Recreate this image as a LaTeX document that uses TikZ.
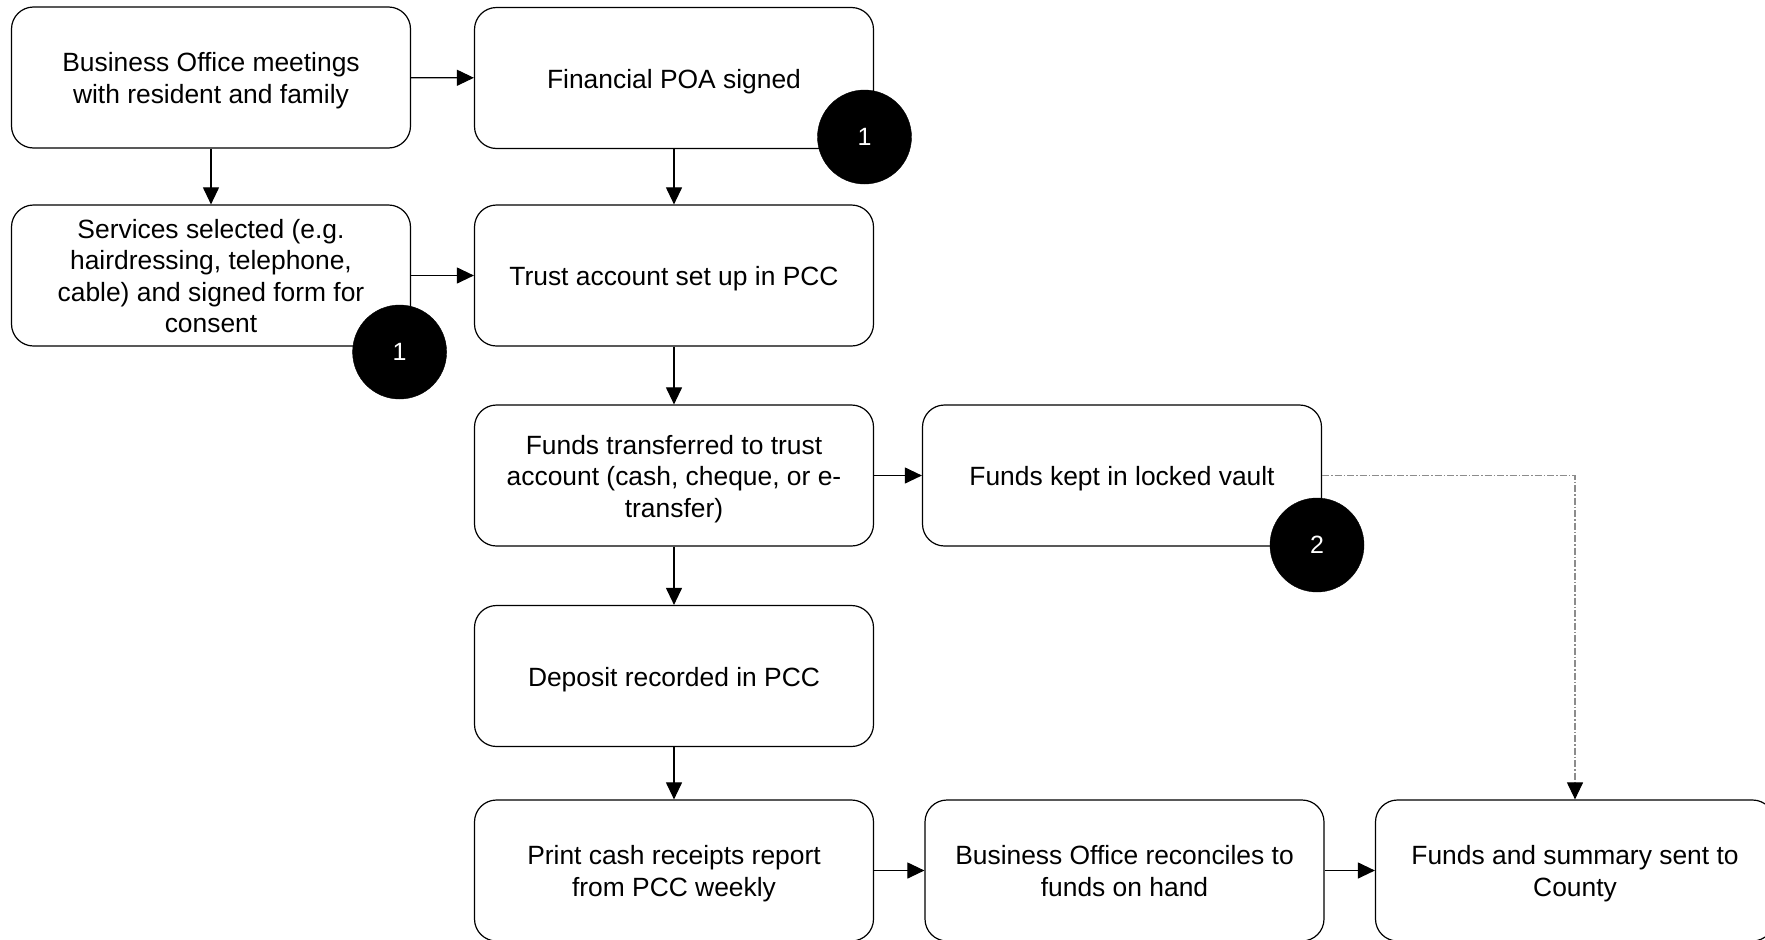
\documentclass[tikz,border=0pt]{standalone}
\usepackage{fontspec}
\setmainfont{Liberation Sans}
\usetikzlibrary{arrows.meta}
\newcommand{\tstrut}{\rule{0pt}{26pt}}
\tikzset{
  box/.style={draw=black, line width=1.2pt, rounded corners=22pt, minimum width=399pt, minimum height=141pt, align=center, inner sep=0pt, font=\fontsize{26.4}{31.5}\selectfont,
    execute at end node={\rule[-6pt]{0pt}{6pt}}},
  badge/.style={circle, fill=black, draw=black, minimum size=94pt, inner sep=0pt, text=white, font=\fontsize{25}{30}\selectfont},
  flow/.style={line width=1.1pt, -{Triangle[length=17pt,width=16pt]}},
  dashflow/.style={line width=1.1pt, draw=black!45, dash pattern=on 7pt off 2pt on 1.5pt off 2pt, -{Triangle[length=17pt,width=16pt,color=black]}}
}
\begin{document}
\begin{tikzpicture}[x=1pt,y=-1pt]
\useasboundingbox (0,0) rectangle (1765,940);
\clip (0,0) rectangle (1765,940);
\node[box] (A) at (211,77.5) {\tstrut Business Office meetings\\with resident and family};
\node[box] (B) at (674,78) {\tstrut Financial POA signed};
\node[box] (C) at (211,275.5) {\tstrut Services selected (e.g.\\hairdressing, telephone,\\cable) and signed form for\\consent};
\node[box] (D) at (674,275.5) {\tstrut Trust account set up in PCC};
\node[box] (E) at (674,475.5) {\tstrut Funds transferred to trust\\account (cash, cheque, or e-\\transfer)};
\node[box] (F) at (1122,475.5) {\tstrut Funds kept in locked vault};
\node[box] (G) at (674,676) {\tstrut Deposit recorded in PCC};
\node[box] (H) at (674,870.5) {\tstrut Print cash receipts report\\from PCC weekly};
\node[box] (I) at (1124.5,870.5) {\tstrut Business Office reconciles to\\funds on hand};
\node[box] (J) at (1575,870.5) {\tstrut Funds and summary sent to\\County};
\node[badge] (b1) at (864.5,137) {1};
\node[badge] (b2) at (399.6,352) {1};
\node[badge] (b3) at (1317,545) {2};
\draw[flow] (A) -- (B);
\draw[flow] (A) -- (C);
\draw[flow] (B) -- (D);
\draw[flow] (C) -- (D);
\draw[flow] (D) -- (E);
\draw[flow] (E) -- (F);
\draw[flow] (E) -- (G);
\draw[flow] (G) -- (H);
\draw[flow] (H) -- (I);
\draw[flow] (I) -- (J);
\draw[dashflow] (F.east) -| (J.north);
\end{tikzpicture}
\end{document}
